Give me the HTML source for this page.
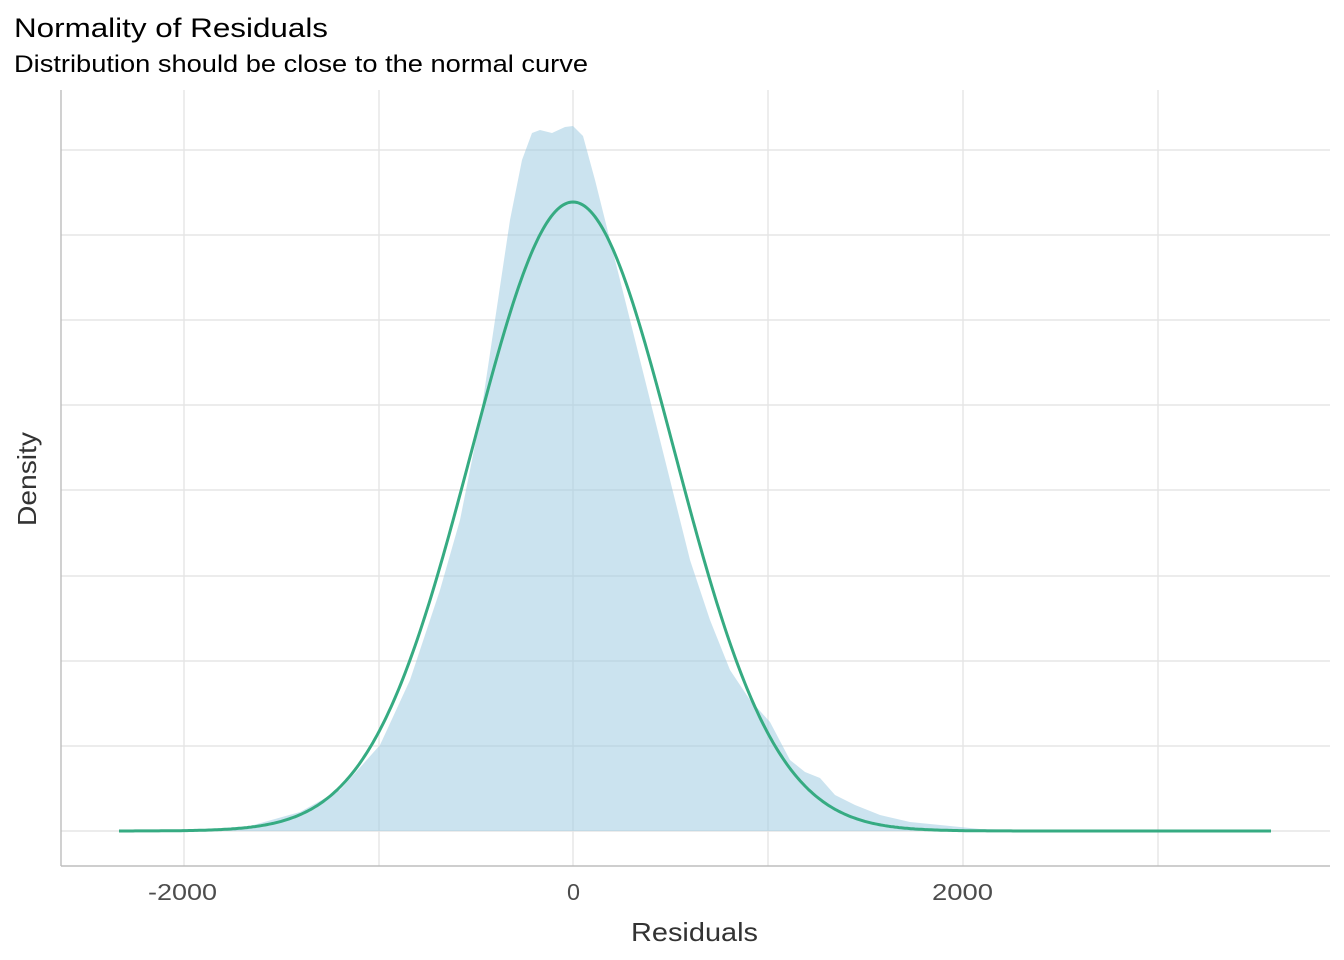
<!DOCTYPE html>
<html><head><meta charset="utf-8"><style>
body{margin:0;background:#fff}
svg{display:block;font-family:"Liberation Sans",Arial,sans-serif}
</style></head><body>
<svg width="1344" height="960" viewBox="0 0 1344 960" xmlns="http://www.w3.org/2000/svg">
<rect width="1344" height="960" fill="#fff"/>
<text x="14" y="37" font-size="27" fill="#000" textLength="314" lengthAdjust="spacingAndGlyphs">Normality of Residuals</text>
<text x="14" y="72" font-size="24" fill="#000" textLength="574" lengthAdjust="spacingAndGlyphs">Distribution should be close to the normal curve</text>
<g stroke="#e5e5e5" stroke-width="1.4">
<line x1="61" x2="1330" y1="150" y2="150"/><line x1="61" x2="1330" y1="235" y2="235"/>
<line x1="61" x2="1330" y1="320" y2="320"/><line x1="61" x2="1330" y1="405" y2="405"/>
<line x1="61" x2="1330" y1="490" y2="490"/><line x1="61" x2="1330" y1="576" y2="576"/>
<line x1="61" x2="1330" y1="661" y2="661"/><line x1="61" x2="1330" y1="746" y2="746"/>
<line x1="61" x2="1330" y1="831" y2="831"/>
<line x1="184" x2="184" y1="90" y2="866"/><line x1="379" x2="379" y1="90" y2="866"/>
<line x1="573" x2="573" y1="90" y2="866"/><line x1="768" x2="768" y1="90" y2="866"/>
<line x1="963" x2="963" y1="90" y2="866"/><line x1="1158" x2="1158" y1="90" y2="866"/>
</g>
<path fill="rgba(160,204,226,0.55)" d="M119,831 L184,831 L250,826 L300,812 L340,790 L380,745 L410,680 L440,590 L460,520 L480,420 L495,320 L510,220 L522,160 L532,133 L540,130 L552,133 L565,127 L573,126 L583,136 L595,180 L610,240 L630,320 L650,400 L670,480 L690,560 L710,620 L730,670 L750,700 L770,722 L790,760 L805,772 L820,778 L835,795 L855,805 L880,815 L910,822 L940,825 L980,829 L1050,831 L1272,831 Z"/>
<path id="nc" fill="none" stroke="#36ab82" stroke-width="3" d=""/>
<g stroke="#bdbdbd" stroke-width="1.4"><line x1="61" x2="61" y1="90" y2="866"/><line x1="61" x2="1330" y1="866" y2="866"/></g>
<g font-size="23" fill="#4d4d4d">
<text x="148" y="900" textLength="69" lengthAdjust="spacingAndGlyphs">-2000</text>
<text x="567" y="900" textLength="13" lengthAdjust="spacingAndGlyphs">0</text>
<text x="932" y="900" textLength="61" lengthAdjust="spacingAndGlyphs">2000</text>
</g>
<text x="631" y="941" font-size="26" fill="#333" textLength="127" lengthAdjust="spacingAndGlyphs">Residuals</text>
<text transform="translate(36,526) rotate(-90)" font-size="26" fill="#333" textLength="94" lengthAdjust="spacingAndGlyphs">Density</text>
<script>
var d="",s=101;for(var x=119;x<=1272;x+=2){var z=(x-573)/s;var y=831-629*Math.exp(-z*z/2);d+=(x==119?"M":"L")+x+","+y.toFixed(1);}
document.getElementById("nc").setAttribute("d",d);
</script>
</svg>
</body></html>
